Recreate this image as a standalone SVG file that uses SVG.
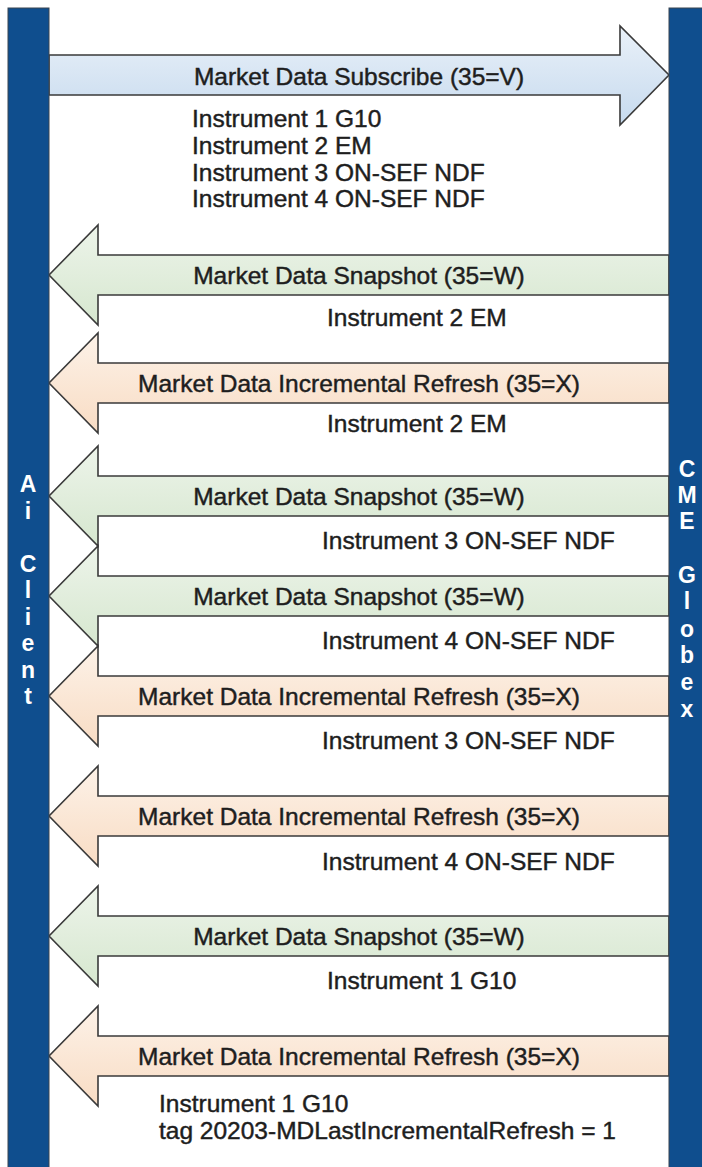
<svg xmlns="http://www.w3.org/2000/svg" width="702" height="1167" viewBox="0 0 702 1167">
<style>
.bar{fill:#0f4e8e;stroke:#3a4450;stroke-width:1}
.bartxt{font-family:"Liberation Sans",Arial,sans-serif;font-weight:bold;font-size:23px;fill:#ffffff;text-anchor:middle}
.arr{stroke:#3a3a3a;stroke-width:1.6;stroke-linejoin:miter}
.blue{fill:url(#gBlue)}
.green{fill:url(#gGreen)}
.orange{fill:url(#gOrange)}
.lbl{font-family:"Liberation Sans",Arial,sans-serif;font-size:24.5px;fill:#1e1e1e;stroke:#1e1e1e;stroke-width:0.45;text-anchor:middle}
.inst{font-family:"Liberation Sans",Arial,sans-serif;font-size:24.5px;fill:#1e1e1e;stroke:#1e1e1e;stroke-width:0.45}
</style>
<defs>
<linearGradient id="gBlue" x1="0" y1="0" x2="0" y2="1">
<stop offset="0" stop-color="#eaf1f9"/><stop offset="1" stop-color="#c6daee"/>
</linearGradient>
<linearGradient id="gGreen" x1="0" y1="0" x2="0" y2="1">
<stop offset="0" stop-color="#edf4ea"/><stop offset="1" stop-color="#d6e7cf"/>
</linearGradient>
<linearGradient id="gOrange" x1="0" y1="0" x2="0" y2="1">
<stop offset="0" stop-color="#fdf2e8"/><stop offset="1" stop-color="#f8dcc4"/>
</linearGradient>
</defs>
<rect width="702" height="1167" fill="#ffffff"/>
<g id="connectors">
<path class="arr blue" d="M49,55 L620,55 L620,26 L669,75 L620,125 L620,95 L49,95 Z"/>
<path class="arr green" d="M669,255 L98,255 L98,225 L49,275 L98,325 L98,295 L669,295 Z"/>
<path class="arr orange" d="M669,363 L98,363 L98,333 L49,383 L98,433 L98,403 L669,403 Z"/>
<path class="arr green" d="M669,476 L98,476 L98,446 L49,496 L98,546 L98,516 L669,516 Z"/>
<path class="arr green" d="M669,576 L98,576 L98,546 L49,596 L98,646 L98,616 L669,616 Z"/>
<path class="arr orange" d="M669,676 L98,676 L98,646 L49,696 L98,746 L98,716 L669,716 Z"/>
<path class="arr orange" d="M669,796 L98,796 L98,766 L49,816 L98,866 L98,836 L669,836 Z"/>
<path class="arr green" d="M669,916 L98,916 L98,886 L49,936 L98,986 L98,956 L669,956 Z"/>
<path class="arr orange" d="M669,1036 L98,1036 L98,1006 L49,1056 L98,1106 L98,1076 L669,1076 Z"/>
<text class="lbl" x="359" y="85">Market Data Subscribe (35=V)</text>
<text class="lbl" x="359" y="284">Market Data Snapshot (35=W)</text>
<text class="lbl" x="359" y="392">Market Data Incremental Refresh (35=X)</text>
<text class="lbl" x="359" y="505">Market Data Snapshot (35=W)</text>
<text class="lbl" x="359" y="605">Market Data Snapshot (35=W)</text>
<text class="lbl" x="359" y="705">Market Data Incremental Refresh (35=X)</text>
<text class="lbl" x="359" y="825">Market Data Incremental Refresh (35=X)</text>
<text class="lbl" x="359" y="945">Market Data Snapshot (35=W)</text>
<text class="lbl" x="359" y="1065">Market Data Incremental Refresh (35=X)</text>
<text class="inst" x="192" y="127">Instrument 1 G10</text>
<text class="inst" x="192" y="154">Instrument 2 EM</text>
<text class="inst" x="192" y="181">Instrument 3 ON-SEF NDF</text>
<text class="inst" x="192" y="207">Instrument 4 ON-SEF NDF</text>
<text class="inst" x="327" y="326">Instrument 2 EM</text>
<text class="inst" x="327" y="432">Instrument 2 EM</text>
<text class="inst" x="322" y="549">Instrument 3 ON-SEF NDF</text>
<text class="inst" x="322" y="649">Instrument 4 ON-SEF NDF</text>
<text class="inst" x="322" y="749">Instrument 3 ON-SEF NDF</text>
<text class="inst" x="322" y="870">Instrument 4 ON-SEF NDF</text>
<text class="inst" x="327" y="989">Instrument 1 G10</text>
<text class="inst" x="159" y="1112">Instrument 1 G10</text>
<text class="inst" x="159" y="1139">tag 20203-MDLastIncrementalRefresh = 1</text>
</g>
<g id="ai-client">
<rect class="bar" x="8" y="8" width="41" height="1165"/>
<text class="bartxt"><tspan x="28" y="492">A</tspan><tspan x="28" y="518.5">i</tspan><tspan x="28" y="571.5">C</tspan><tspan x="28" y="598">l</tspan><tspan x="28" y="624.5">i</tspan><tspan x="28" y="651">e</tspan><tspan x="28" y="677.5">n</tspan><tspan x="28" y="704">t</tspan></text>
</g>
<g id="cme-globex">
<rect class="bar" x="669" y="8" width="40" height="1165"/>
<text class="bartxt"><tspan x="687" y="477">C</tspan><tspan x="687" y="503">M</tspan><tspan x="687" y="529">E</tspan><tspan x="687" y="583">G</tspan><tspan x="687" y="609">l</tspan><tspan x="687" y="637">o</tspan><tspan x="687" y="663">b</tspan><tspan x="687" y="690">e</tspan><tspan x="687" y="717">x</tspan></text>
</g>
</svg>
